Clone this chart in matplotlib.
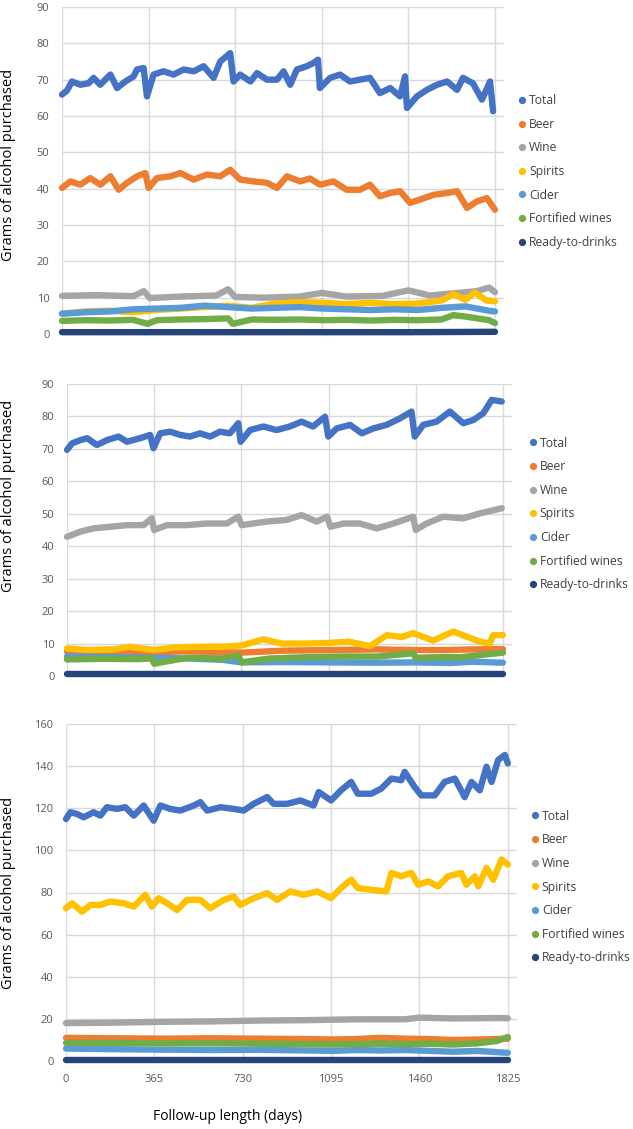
import matplotlib
matplotlib.use("Agg")
import matplotlib.pyplot as plt
from matplotlib.lines import Line2D

# ============================================================
# 1. Data
# ============================================================

series_names = ["Total", "Beer", "Wine", "Spirits", "Cider",
                "Fortified wines", "Ready-to-drinks"]
series_colors = ["#4472C4", "#ED7D31", "#A5A5A5", "#FFC000", "#5B9BD5",
                 "#70AD47", "#264478"]

x_ticks = [0, 365, 730, 1095, 1460, 1825]

# ---- Panel 1 ----
p1_total_days = [0, 21, 42, 77, 112, 133, 161, 204, 232, 267, 302, 316, 344, 358,
                 386, 428, 470, 513, 555, 597, 639, 667, 709, 723, 751, 794, 822,
                 864, 906, 934, 962, 990, 1032, 1060, 1079, 1087, 1130, 1172, 1214,
                 1256, 1298, 1340, 1383, 1425, 1446, 1454, 1496, 1538, 1581, 1623,
                 1665, 1690, 1732, 1770, 1804, 1817]
p1_total = [65.9, 67, 69.5, 68.6, 69, 70.5, 68.6, 71.4, 67.7, 69.5, 70.9, 72.8, 73.2,
            65.4, 71.4, 72.3, 71.4, 72.8, 72.3, 73.7, 70.5, 75, 77.3, 69.5, 71.4,
            69.5, 71.8, 70, 70, 72.3, 68.6, 72.8, 73.7, 74.6, 75.5, 67.7, 70.5, 71.4,
            69.5, 70, 70.5, 66.3, 67.7, 65.4, 70.9, 62.2, 65.4, 67.2, 68.6, 69.5,
            67.2, 70.5, 69, 64.5, 69.5, 61.3]
p1_beer_days = [0, 35, 77, 119, 162, 204, 239, 274, 316, 351, 365, 400, 456, 499,
                555, 611, 667, 709, 751, 808, 864, 906, 948, 1004, 1045, 1088, 1144,
                1200, 1256, 1298, 1340, 1383, 1425, 1467, 1509, 1566, 1622, 1665,
                1707, 1749, 1791, 1825]
p1_beer = [40.2, 42, 41.1, 42.9, 41.1, 43.4, 39.7, 41.6, 43.4, 44.3, 40.2, 42.9, 43.4,
           44.3, 42.5, 43.9, 43.4, 45.2, 42.5, 42, 41.6, 40.2, 43.4, 42.0, 42.8, 41.1,
           42, 39.7, 39.7, 41.1, 37.9, 38.8, 39.3, 36.1, 37, 38.3, 38.8, 39.3, 34.7,
           36.5, 37.4, 34.2]
p1_wine_days = [0, 150, 300, 345, 370, 500, 650, 700, 730, 850, 1000, 1095, 1200,
                1350, 1460, 1550, 1650, 1750, 1800, 1825]
p1_wine = [10.5, 10.7, 10.4, 11.8, 9.9, 10.3, 10.6, 12.3, 10.2, 10.0, 10.3, 11.3,
           10.3, 10.5, 12.0, 10.6, 11.2, 11.8, 12.8, 11.5]
p1_spirits_days = [0, 100, 200, 300, 400, 500, 600, 700, 800, 900, 1000, 1100, 1200,
                   1300, 1400, 1500, 1600, 1650, 1700, 1740, 1790, 1825]
p1_spirits = [5.6, 6.2, 6.4, 6.0, 6.6, 7.0, 7.4, 7.8, 7.2, 8.4, 8.8, 8.6, 8.2, 8.6,
              8.2, 8.4, 9.2, 11.0, 9.4, 11.4, 9.2, 9.0]
p1_cider_days = [0, 100, 200, 300, 400, 500, 600, 700, 800, 900, 1000, 1100, 1200,
                 1300, 1400, 1500, 1600, 1700, 1800, 1825]
p1_cider = [5.6, 6.0, 6.2, 6.8, 7.0, 7.2, 7.8, 7.4, 7.0, 7.2, 7.4, 7.0, 6.8, 6.6,
            6.8, 6.6, 7.2, 7.6, 6.4, 6.2]
p1_fort_days = [0, 100, 200, 300, 360, 400, 500, 600, 700, 720, 800, 900, 1000, 1100,
                1200, 1300, 1400, 1500, 1600, 1650, 1700, 1800, 1825]
p1_fort = [3.6, 3.8, 3.7, 3.9, 2.8, 3.8, 4.0, 4.1, 4.3, 2.8, 4.0, 3.9, 4.0, 3.8, 3.9,
           3.7, 3.9, 3.8, 4.0, 5.2, 4.8, 3.8, 3.0]
p1_rtd_days = [0, 365, 730, 1095, 1460, 1825]
p1_rtd = [0.5, 0.5, 0.5, 0.5, 0.5, 0.6]

# ---- Panel 2 ----
p2_total_days = [0, 21, 56, 84, 125, 167, 216, 251, 306, 348, 362, 390, 432, 474, 515,
                 557, 599, 641, 682, 717, 727, 766, 822, 877, 933, 982, 1030, 1080,
                 1094, 1129, 1185, 1234, 1282, 1338, 1394, 1442, 1456, 1491, 1547,
                 1603, 1659, 1701, 1743, 1778, 1820]
p2_total = [69.7, 71.7, 72.7, 73.3, 71.2, 72.7, 73.8, 72.2, 73.3, 74.3, 70.2, 74.8,
            75.3, 74.3, 73.8, 74.8, 73.8, 75.3, 74.8, 77.9, 72.2, 75.8, 76.9, 75.8,
            76.9, 78.4, 76.9, 79.9, 73.8, 76.3, 77.4, 74.8, 76.3, 77.4, 79.4, 81.5,
            73.8, 77.4, 78.4, 81.5, 77.9, 78.9, 81.0, 85.1, 84.6]
p2_wine_days = [0, 56, 111, 181, 251, 320, 355, 365, 418, 501, 585, 669, 717, 731,
                836, 919, 982, 1045, 1089, 1103, 1157, 1226, 1296, 1366, 1449, 1460,
                1505, 1575, 1659, 1728, 1820]
p2_wine = [42.9, 44.5, 45.5, 46, 46.5, 46.5, 48.6, 45, 46.5, 46.5, 47, 47, 49.1, 46.5,
           47.6, 48.1, 49.6, 47.6, 49.1, 46, 47, 47, 45.5, 47, 49.1, 45, 47, 49.1,
           48.6, 50.1, 51.7]
p2_spirits_days = [0, 84, 200, 260, 365, 450, 550, 650, 730, 822, 900, 1000, 1095,
                   1180, 1268, 1340, 1400, 1449, 1533, 1617, 1673, 1729, 1770, 1784,
                   1825]
p2_spirits = [8.5, 8.0, 8.2, 9.0, 8.0, 8.8, 9.0, 9.0, 9.4, 11.3, 10.0, 10.0, 10.2,
              10.6, 9.2, 12.6, 12.0, 13.2, 10.9, 13.7, 12.1, 10.6, 10.0, 12.6, 12.6]
p2_beer_days = [0, 200, 365, 500, 730, 900, 1095, 1300, 1460, 1600, 1700, 1825]
p2_beer = [7.5, 7.2, 7.3, 7.6, 7.2, 7.8, 8.0, 8.2, 8.0, 8.0, 8.2, 8.3]
p2_cider_days = [0, 200, 365, 500, 650, 730, 900, 1095, 1300, 1460, 1600, 1700, 1825]
p2_cider = [6.0, 5.8, 5.6, 5.4, 5.0, 4.2, 4.3, 4.2, 4.1, 4.2, 4.0, 4.4, 4.1]
p2_fort_days = [0, 150, 300, 355, 365, 500, 650, 717, 730, 850, 1000, 1150, 1300,
                1449, 1460, 1550, 1650, 1750, 1825]
p2_fort = [5.1, 5.3, 5.2, 5.4, 3.8, 5.6, 5.4, 6.4, 4.2, 5.4, 5.8, 6.0, 6.0, 7.0, 5.6,
           5.8, 5.8, 6.6, 7.2]
p2_rtd_days = [0, 365, 730, 1095, 1460, 1825]
p2_rtd = [0.5, 0.5, 0.5, 0.5, 0.5, 0.5]

# ---- Panel 3 ----
p3_total_days = [0, 18, 45, 73, 114, 142, 169, 211, 245, 280, 321, 362, 390, 431, 472,
                 528, 555, 583, 638, 693, 734, 775, 831, 858, 913, 968, 1023, 1044,
                 1095, 1136, 1178, 1205, 1261, 1302, 1344, 1385, 1399, 1440, 1468,
                 1523, 1564, 1606, 1647, 1675, 1709, 1737, 1758, 1785, 1813, 1825]
p3_total = [114.9, 118.1, 117.3, 115.7, 118.1, 116.5, 120.5, 119.7, 120.5, 116.5,
            121.3, 114.1, 121.3, 119.7, 118.9, 121.3, 122.9, 118.9, 120.5, 119.7,
            118.9, 122.1, 125.3, 122.1, 122.1, 123.7, 121.3, 127.7, 123.7, 128.5,
            132.5, 126.9, 126.9, 129.3, 134.1, 133.3, 137.3, 130.1, 126.1, 126.1,
            132.5, 134.1, 125.3, 132.5, 128.5, 139.7, 132.5, 142.9, 145.3, 141.3]
p3_spirits_days = [0, 25, 66, 101, 142, 183, 238, 280, 328, 355, 383, 417, 459, 500,
                   555, 596, 652, 693, 720, 775, 831, 872, 927, 982, 1037, 1095, 1136,
                   1178, 1205, 1261, 1323, 1344, 1385, 1427, 1454, 1496, 1537, 1578,
                   1633, 1654, 1689, 1703, 1737, 1765, 1799, 1825]
p3_spirits = [72.5, 74.9, 70.9, 74.1, 74.1, 75.7, 74.9, 73.3, 78.9, 73.3, 77.3, 74.9,
              71.7, 76.5, 76.5, 72.5, 76.5, 78.1, 74.1, 77.3, 79.7, 76.5, 80.5, 78.9,
              80.5, 77.3, 82.1, 86.1, 82.1, 81.3, 80.5, 89.3, 87.7, 89.3, 83.7, 85.3,
              82.9, 87.7, 89.3, 83.7, 87.7, 82.9, 91.7, 86.1, 95.7, 93.3]
p3_wine_days = [0, 200, 400, 600, 800, 1000, 1200, 1400, 1460, 1600, 1800, 1825]
p3_wine = [18.0, 18.2, 18.6, 18.8, 19.2, 19.4, 19.8, 19.8, 20.6, 20.2, 20.4, 20.3]
p3_beer_days = [0, 200, 400, 600, 800, 1000, 1100, 1200, 1300, 1400, 1500, 1600,
                1700, 1825]
p3_beer = [11.0, 10.8, 10.6, 10.8, 10.6, 10.4, 10.2, 10.4, 11.0, 10.6, 10.4, 10.0,
           10.2, 10.6]
p3_fort_days = [0, 200, 400, 600, 800, 1000, 1100, 1200, 1300, 1400, 1500, 1600,
                1700, 1780, 1825]
p3_fort = [8.6, 8.6, 8.4, 8.4, 8.2, 8.0, 7.8, 8.0, 8.2, 8.0, 8.2, 7.8, 8.4, 9.5, 11.4]
p3_cider_days = [0, 200, 400, 600, 800, 1000, 1100, 1200, 1300, 1400, 1500, 1600,
                 1700, 1780, 1825]
p3_cider = [5.9, 5.6, 5.4, 5.2, 5.3, 5.0, 4.8, 5.2, 5.0, 5.2, 4.8, 4.4, 4.8, 4.2, 3.9]
p3_rtd_days = [0, 365, 730, 1095, 1460, 1825]
p3_rtd = [0.5, 0.5, 0.5, 0.5, 0.5, 0.5]

panels = [
    {
        "series": [(p1_total_days, p1_total), (p1_beer_days, p1_beer),
                   (p1_wine_days, p1_wine), (p1_spirits_days, p1_spirits),
                   (p1_cider_days, p1_cider), (p1_fort_days, p1_fort),
                   (p1_rtd_days, p1_rtd)],
        "ymax": 90, "ystep": 10,
    },
    {
        "series": [(p2_total_days, p2_total), (p2_beer_days, p2_beer),
                   (p2_wine_days, p2_wine), (p2_spirits_days, p2_spirits),
                   (p2_cider_days, p2_cider), (p2_fort_days, p2_fort),
                   (p2_rtd_days, p2_rtd)],
        "ymax": 90, "ystep": 10,
    },
    {
        "series": [(p3_total_days, p3_total), (p3_beer_days, p3_beer),
                   (p3_wine_days, p3_wine), (p3_spirits_days, p3_spirits),
                   (p3_cider_days, p3_cider), (p3_fort_days, p3_fort),
                   (p3_rtd_days, p3_rtd)],
        "ymax": 160, "ystep": 20,
    },
]

# ============================================================
# 2. Layout (pixel boxes of the reference)
# ============================================================

W, H = 633, 1129
plt.rcParams["font.family"] = ["Open Sans", "DejaVu Sans"]

fig = plt.figure(figsize=(W / 100, H / 100), dpi=100)

# left, top, right, bottom in pixels
axes_px = [(62, 7, 504, 334), (67, 384, 512, 676), (66, 724, 517, 1061)]
ylabel_y_px = [165, 496, 893]
legend_px = [(518, 171.5), (529, 514), (531, 887)]

tick_color = "#595959"
grid_color = "#D9D9D9"

# ============================================================
# 3. Panels
# ============================================================

for i, panel in enumerate(panels):
    l, t, r, b = axes_px[i]
    ax = fig.add_axes([l / W, 1 - b / H, (r - l) / W, (b - t) / H])

    for k, (days, vals) in enumerate(panel["series"]):
        ax.plot(days, vals, color=series_colors[k], lw=4.6,
                solid_capstyle="round", solid_joinstyle="round",
                clip_on=False, zorder=3 + k)

    ax.set_xlim(0, 1863)
    ax.set_ylim(0, panel["ymax"])
    ax.set_xticks(x_ticks)
    ax.set_yticks(range(0, panel["ymax"] + 1, panel["ystep"]))
    ax.grid(True, color=grid_color, lw=1.0)
    ax.set_axisbelow(True)
    for s in ax.spines.values():
        s.set_visible(False)
    ax.tick_params(length=0, labelsize=8, colors=tick_color, pad=9)
    if i < 2:
        ax.tick_params(axis="x", labelbottom=False)

    fig.text(9 / W, 1 - ylabel_y_px[i] / H, "Grams of alcohol purchased",
             rotation=90, ha="center", va="center", fontsize=10.5, color="#000000")

    handles = [Line2D([], [], marker="o", linestyle="none", color=c, markersize=4.2)
               for c in series_colors]
    lx, ly = legend_px[i]
    ax.legend(handles, series_names, loc="center left",
              bbox_to_anchor=(lx / W, 1 - ly / H), bbox_transform=fig.transFigure,
              frameon=False, fontsize=8.7, labelcolor="#404040",
              handlelength=0.6, handletextpad=0.3, labelspacing=0.88,
              borderpad=0, borderaxespad=0)

fig.text(228 / W, 1 - 1117 / H, "Follow-up length (days)", ha="center",
         va="center", fontsize=10, color="#000000")

fig.savefig("out.png", dpi=100)
